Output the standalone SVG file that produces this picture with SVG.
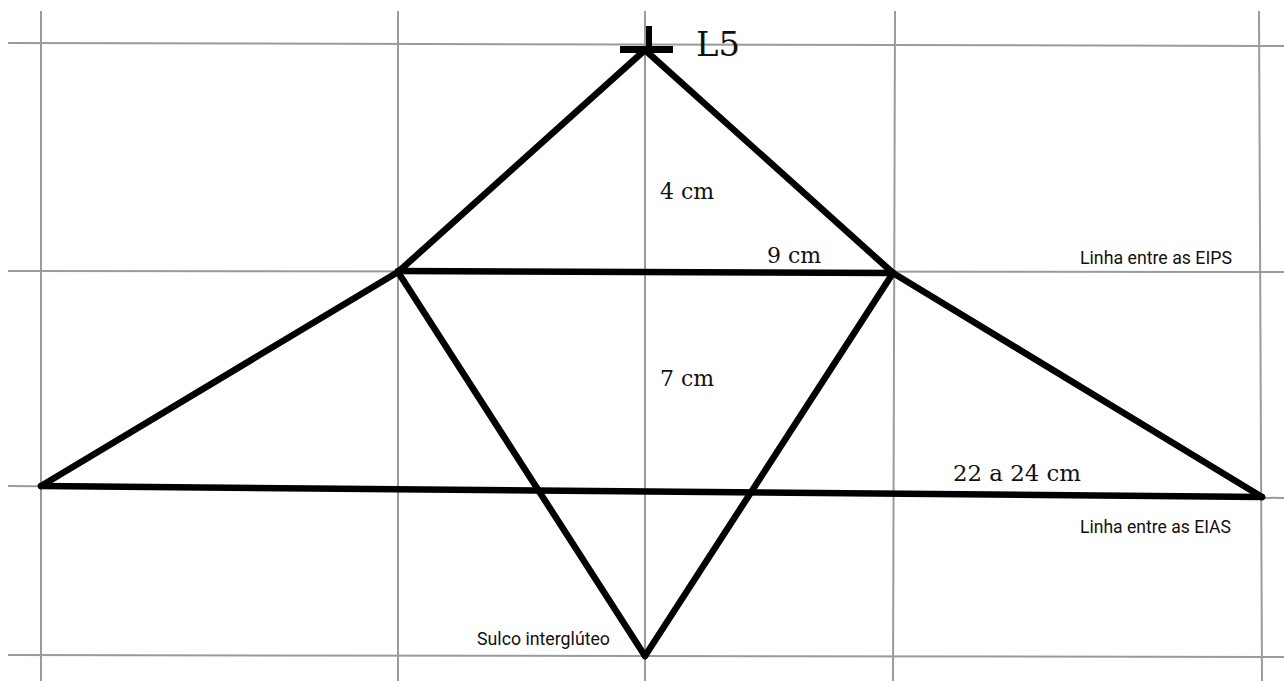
<svg xmlns="http://www.w3.org/2000/svg" width="1284" height="681" viewBox="0 0 1284 681">
<style>
.grid{stroke:#9a9a9a;stroke-width:2;fill:none}
.edge{stroke:#000;stroke-width:6.5;fill:none;stroke-linecap:round;stroke-linejoin:round}
.num{font-family:"DejaVu Serif","Liberation Serif",serif;font-size:22px;fill:#111}
.lbl{font-family:"Liberation Sans Narrow",Roboto,"Liberation Sans",sans-serif;font-size:19px;fill:#111}
</style>
<rect width="1284" height="681" fill="#fff"/>
<g id="grid">
<line class="grid" x1="41" y1="11" x2="41" y2="681"/>
<line class="grid" x1="398" y1="11" x2="398" y2="681"/>
<line class="grid" x1="645" y1="11" x2="645" y2="681"/>
<line class="grid" x1="895" y1="11" x2="893" y2="681"/>
<line class="grid" x1="1259" y1="11" x2="1262" y2="681"/>
<line class="grid" x1="8" y1="43" x2="1284" y2="46"/>
<line class="grid" x1="8" y1="271" x2="1284" y2="272"/>
<line class="grid" x1="8" y1="486" x2="1284" y2="498"/>
<line class="grid" x1="8" y1="655" x2="1284" y2="657"/>
</g>
<g id="connectors">
<line class="edge" x1="645" y1="50" x2="398" y2="272"/>
<line class="edge" x1="645" y1="50" x2="893" y2="273"/>
<line class="edge" x1="398" y1="271" x2="893" y2="273"/>
<line class="edge" x1="398" y1="272" x2="41" y2="486"/>
<line class="edge" x1="893" y1="273" x2="1262" y2="497"/>
<line class="edge" x1="41" y1="486" x2="1262" y2="497"/>
<line class="edge" x1="398" y1="272" x2="645" y2="656"/>
<line class="edge" x1="893" y1="273" x2="645" y2="656"/>
</g>
<g id="L5">
<line x1="620" y1="49.5" x2="673" y2="49.5" stroke="#000" stroke-width="7"/>
<line x1="649" y1="26" x2="649" y2="50" stroke="#000" stroke-width="6"/>
<text x="696" y="56" font-family="DejaVu Serif,Liberation Serif,serif" font-size="34" fill="#111" textLength="44" lengthAdjust="spacingAndGlyphs">L5</text>
</g>
<g id="labels">
<text class="num" x="660" y="199">4 cm</text>
<text class="num" x="767" y="263">9 cm</text>
<text class="num" x="660" y="386">7 cm</text>
<text class="num" x="953" y="481" textLength="128" lengthAdjust="spacingAndGlyphs">22 a 24 cm</text>
<text class="lbl" x="1080" y="264" textLength="152" lengthAdjust="spacingAndGlyphs">Linha entre as EIPS</text>
<text class="lbl" x="1080" y="533" textLength="151" lengthAdjust="spacingAndGlyphs">Linha entre as EIAS</text>
<text class="lbl" x="477" y="645" textLength="133" lengthAdjust="spacingAndGlyphs">Sulco interglúteo</text>
</g>
</svg>
